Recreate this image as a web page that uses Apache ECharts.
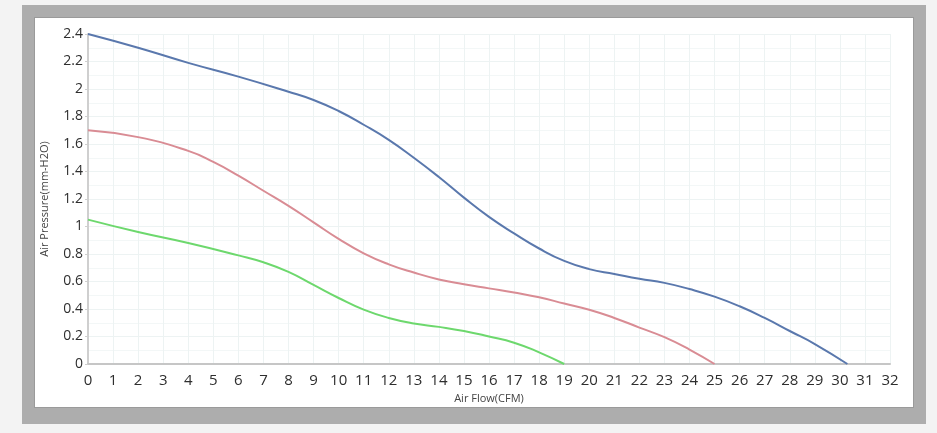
<!DOCTYPE html>
<html>
<head>
<meta charset="utf-8">
<script src="https://cdn.jsdelivr.net/npm/echarts@6/dist/echarts.min.js"></script>
<style>
  html, body { margin: 0; padding: 0; background: #f3f3f3; }
  #frame {
    position: absolute; left: 22px; top: 5px;
    width: 880px; height: 391px;
    border: 12px solid #adadad;
    border-top-width: 12px; border-bottom-width: 16px;
    box-shadow: inset 0 0 0 1px #9a9a9a;
    background: #fff;
  }
  #chart { width: 880px; height: 391px; }
</style>
</head>
<body>
<div id="frame"><div id="chart"></div></div>
<script>
// fan performance curves
const flowBlue = [0, 2, 4, 6, 8, 9, 10, 11, 12, 13, 14, 15, 16, 17, 18, 19, 20, 21, 22, 23, 24, 25, 26, 27, 28, 29, 30.3];
const pressureBlue = [2.40, 2.30, 2.19, 2.09, 1.98, 1.92, 1.84, 1.74, 1.63, 1.50, 1.36, 1.21, 1.07, 0.95, 0.84, 0.75, 0.69, 0.655, 0.62, 0.59, 0.545, 0.49, 0.42, 0.335, 0.24, 0.145, 0];

const flowRed = [0, 2, 4, 5, 6, 7, 8, 9, 10, 11, 12, 13, 14, 15, 16, 17, 18, 19, 20, 21, 22, 23, 24, 25];
const pressureRed = [1.70, 1.65, 1.55, 1.47, 1.37, 1.26, 1.15, 1.03, 0.91, 0.805, 0.725, 0.665, 0.615, 0.58, 0.55, 0.52, 0.485, 0.44, 0.395, 0.335, 0.265, 0.195, 0.105, 0];

const flowGreen = [0, 2, 4, 6, 7, 8, 9, 10, 11, 12, 13, 14, 15, 16, 17, 18, 19];
const pressureGreen = [1.05, 0.96, 0.88, 0.79, 0.74, 0.67, 0.575, 0.48, 0.395, 0.335, 0.295, 0.27, 0.24, 0.20, 0.155, 0.085, 0];

function pairs(xs, ys) {
  return xs.map((x, i) => [x, ys[i]]);
}

let myChart = echarts.init(document.getElementById('chart'));
const labelFont = '"Open Sans", "DejaVu Sans", sans-serif';

myChart.setOption({
  animation: false,
  grid: { left: 54, right: 24, top: 17, bottom: 44, outerBoundsMode: 'none' },
  xAxis: [{
    type: 'value',
    min: 0,
    max: 32,
    interval: 1,
    name: 'Air Flow(CFM)',
    nameLocation: 'middle',
    nameGap: 28,
    nameTextStyle: { fontFamily: labelFont, fontSize: 11, color: '#444' },
    axisLine: { show: true, onZero: false, lineStyle: { color: '#bdbdbd', type: 'dotted' } },
    axisTick: { show: false },
    axisLabel: { margin: 9, fontFamily: labelFont, fontSize: 15, color: '#2e2e2e' },
    splitLine: { show: true, lineStyle: { color: '#edf3f3' } }
  }, {
    type: 'value',
    position: 'top',
    min: 0,
    max: 32,
    interval: 1,
    axisLine: { show: true, lineStyle: { color: '#c6c6c6', width: 2 } },
    axisTick: { show: false },
    axisLabel: { show: false },
    splitLine: { show: false }
  }],
  yAxis: {
    type: 'value',
    min: 0,
    max: 2.4,
    interval: 0.2,
    name: 'Air Pressure(mm-H2O)',
    nameLocation: 'middle',
    nameGap: 38,
    nameTextStyle: { fontFamily: labelFont, fontSize: 11, color: '#444' },
    axisLine: { show: true, lineStyle: { color: '#cfcfcf', width: 2 } },
    axisTick: { show: true, length: 3, lineStyle: { color: '#cfcfcf' } },
    axisLabel: { margin: 5, fontFamily: labelFont, fontSize: 14, color: '#2e2e2e' },
    splitLine: { show: true, lineStyle: { color: '#edf3f3' } },
    minorTick: { show: false, splitNumber: 2 },
    minorSplitLine: { show: true, lineStyle: { color: '#f3f7f7' } }
  },
  series: [{
    name: 'blue',
    type: 'line',
    smooth: 0.5,
    showSymbol: false,
    lineStyle: { color: '#5a78ad', width: 2 },
    data: pairs(flowBlue, pressureBlue)
  }, {
    name: 'red',
    type: 'line',
    smooth: 0.5,
    showSymbol: false,
    lineStyle: { color: '#d98c94', width: 2 },
    data: pairs(flowRed, pressureRed)
  }, {
    name: 'green',
    type: 'line',
    smooth: 0.5,
    showSymbol: false,
    lineStyle: { color: '#6dd86d', width: 2 },
    data: pairs(flowGreen, pressureGreen)
  }]
});

window.addEventListener('resize', function() {
  myChart.resize();
});
</script>
</body>
</html>
